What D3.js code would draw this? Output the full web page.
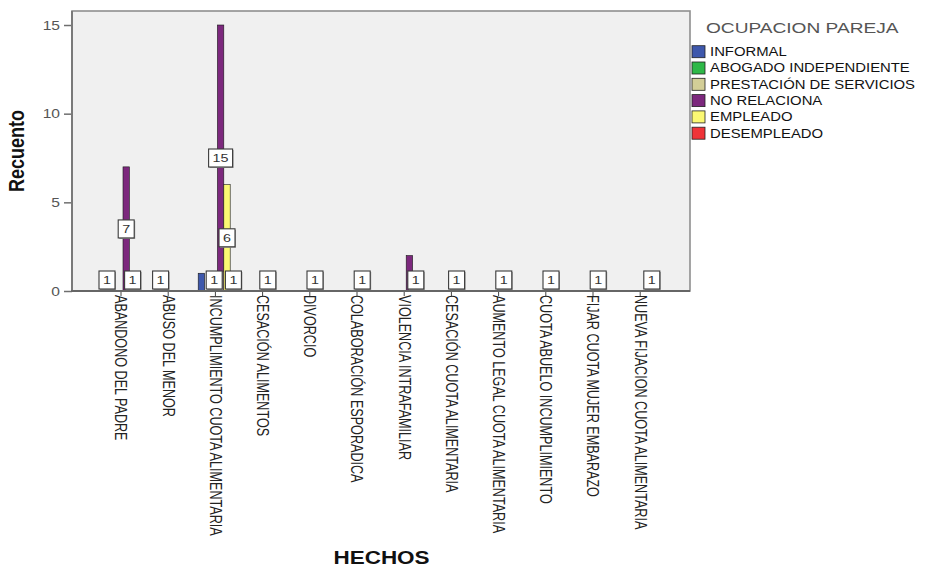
<!DOCTYPE html>
<html>
<head>
<meta charset="utf-8">
<script src="https://cdn.jsdelivr.net/npm/d3@7"></script>
<style>
  body { margin: 0; background: #ffffff; }
  svg { display: block; font-family: "Liberation Sans", Arial, sans-serif; }
</style>
</head>
<body>
<svg id="chart" width="925" height="567"></svg>
<script>
// Categories (HECHOS)
const hechos = [
  "ABANDONO DEL PADRE",
  "ABUSO DEL MENOR",
  "INCUMPLIMIENTO CUOTA ALIMENTARIA",
  "CESACIÓN ALIMENTOS",
  "DIVORCIO",
  "COLABORACIÓN ESPORADICA",
  "VIOLENCIA INTRAFAMILIAR",
  "CESACIÓN CUOTA ALIMENTARIA",
  "AUMENTO LEGAL CUOTA ALIMENTARIA",
  "CUOTA ABUELO INCUMPLIMIENTO",
  "FIJAR CUOTA MUJER EMBARAZO",
  "NUEVA FIJACION CUOTA ALIMENTARIA"
];

// Series (OCUPACION PAREJA)
const ocupaciones = [
  "INFORMAL",
  "ABOGADO INDEPENDIENTE",
  "PRESTACIÓN DE SERVICIOS",
  "NO RELACIONA",
  "EMPLEADO",
  "DESEMPLEADO"
];
const colores = ["#3E58AC", "#2EB848", "#D3CE97", "#7C287D", "#FBF873", "#EF3338"];

// Counts per hecho, one array per ocupación
const informal      = [1, 0, 1, 0, 0, 0, 0, 0, 0, 0, 0, 0];
const abogado       = [0, 1, 0, 0, 0, 0, 0, 0, 0, 0, 0, 0];
const prestacion    = [0, 0, 1, 0, 0, 0, 0, 0, 0, 0, 0, 0];
const noRelaciona   = [7, 0, 15, 1, 1, 1, 2, 1, 1, 1, 1, 0];
const empleado      = [1, 0, 6, 0, 0, 0, 1, 0, 0, 0, 0, 1];
const desempleado   = [0, 0, 1, 0, 0, 0, 0, 0, 0, 0, 0, 0];
const series = [informal, abogado, prestacion, noRelaciona, empleado, desempleado];

const yTicks = [0, 5, 10, 15];

// ---- layout ----
const K = 1.25;                 // horizontal text stretch
const plot = { left: 72, right: 690, top: 11, bottom: 291 };
const svg = d3.select("#chart");

const x0 = d3.scaleBand().domain(hechos).range([99.4, 665.8]);
const x1 = d3.scaleBand().domain(ocupaciones)
  .range([0, x0.bandwidth()]).paddingInner(0).paddingOuter(0.6875);
const y = d3.scaleLinear().domain([0, 15.79]).range([plot.bottom, plot.top]);
const color = d3.scaleOrdinal().domain(ocupaciones).range(colores);

// plot background and frame
svg.append("rect")
  .attr("x", plot.left).attr("y", plot.top)
  .attr("width", plot.right - plot.left).attr("height", plot.bottom - plot.top)
  .attr("fill", "#F0F0F0").attr("stroke", "#8f8f8f").attr("stroke-width", 1.6);

// bars
const rows = [];
hechos.forEach((h, i) => {
  ocupaciones.forEach((o, s) => {
    rows.push({ hecho: h, ocup: o, s, value: series[s][i] });
  });
});
const nonzero = rows.filter(d => d.value > 0);

svg.append("g").selectAll("rect").data(nonzero).join("rect")
  .attr("x", d => x0(d.hecho) + x1(d.ocup))
  .attr("width", x1.bandwidth())
  .attr("y", d => y(d.value))
  .attr("height", d => y(0) - y(d.value))
  .attr("fill", d => color(d.ocup))
  .attr("stroke", "#1a1a1a").attr("stroke-width", 0.6);

// y axis
const yAxis = svg.append("g")
  .attr("transform", `translate(${plot.left},0)`)
  .call(d3.axisLeft(y).tickValues(yTicks).tickSize(8).tickPadding(0).tickFormat(d3.format("d")));
yAxis.select(".domain").remove();
yAxis.selectAll(".tick line").attr("stroke", "#6f6f6f").attr("stroke-width", 1.5);
yAxis.selectAll(".tick text")
  .attr("x", -9.6).attr("dy", "0.34em")
  .attr("transform", `scale(${K},1)`)
  .attr("font-size", 12.5).attr("fill", "#555");

// x axis (ticks and rotated category labels)
const xTickScale = x0.copy().range([97.4, 663.8]);
const xAxis = svg.append("g")
  .attr("transform", `translate(0,${plot.bottom})`)
  .call(d3.axisBottom(xTickScale).tickSize(5));
xAxis.select(".domain").remove();
xAxis.selectAll(".tick line").attr("stroke", "#444").attr("stroke-width", 1);
xAxis.selectAll(".tick text")
  .attr("x", 4).attr("y", 0).attr("dy", "0.36em")
  .attr("text-anchor", "start")
  .attr("transform", `scale(${K},1) rotate(90)`)
  .attr("font-size", 12.6).attr("fill", "#222");

// axis lines
svg.append("line")
  .attr("x1", plot.left).attr("x2", plot.left)
  .attr("y1", plot.top).attr("y2", plot.bottom + 1)
  .attr("stroke", "#7a7a7a").attr("stroke-width", 2);
svg.append("line")
  .attr("x1", plot.left - 1).attr("x2", plot.right)
  .attr("y1", plot.bottom).attr("y2", plot.bottom)
  .attr("stroke", "#666").attr("stroke-width", 2);

// value labels: boxed, centred on the bar, skipping ones that would collide
const labelFont = 11.5, boxH = 18;
const placed = [];
const labels = [];
hechos.forEach((h, i) => {
  for (let s = ocupaciones.length - 1; s >= 0; s--) {
    const v = series[s][i];
    if (!(v > 0)) continue;
    const txt = String(v);
    const w = txt.length * 0.556 * labelFont * K + 8;
    const cx = x0(h) + x1(ocupaciones[s]) + x1.bandwidth() / 2;
    const cy = Math.min(y(v / 2), y(0) - boxH / 2 - 2);
    const box = { x0: cx - w / 2, x1: cx + w / 2, y0: cy - boxH / 2, y1: cy + boxH / 2 };
    const hit = placed.some(b => b.x0 < box.x1 && box.x0 < b.x1 && b.y0 < box.y1 && box.y0 < b.y1);
    if (hit) continue;
    placed.push(box);
    labels.push({ txt, cx, cy, w });
  }
});
const lg = svg.append("g").selectAll("g").data(labels).join("g")
  .attr("transform", d => `translate(${d.cx},${d.cy})`);
lg.append("rect")
  .attr("x", d => -d.w / 2 + 1).attr("y", -boxH / 2 + 1)
  .attr("width", d => d.w).attr("height", boxH)
  .attr("fill", "#9a9a9a");
lg.append("rect")
  .attr("x", d => -d.w / 2).attr("y", -boxH / 2)
  .attr("width", d => d.w).attr("height", boxH)
  .attr("fill", "#ffffff").attr("stroke", "#3a3a3a").attr("stroke-width", 1.1);
lg.append("text")
  .attr("transform", `scale(${K},1)`)
  .attr("text-anchor", "middle").attr("dy", "0.36em")
  .attr("font-size", labelFont).attr("fill", "#333")
  .text(d => d.txt);

// axis titles
svg.append("text")
  .attr("transform", `translate(24,151) scale(${K},1) rotate(-90)`)
  .attr("text-anchor", "middle")
  .attr("font-size", 18).attr("font-weight", "bold").attr("fill", "#111")
  .text("Recuento");
svg.append("text")
  .attr("transform", `translate(381.5,564) scale(${K},1)`)
  .attr("text-anchor", "middle")
  .attr("font-size", 18).attr("font-weight", "bold").attr("fill", "#111")
  .text("HECHOS");

// legend
const legend = svg.append("g");
legend.append("text")
  .attr("transform", `translate(706,33) scale(${K},1)`)
  .attr("font-size", 15.3).attr("fill", "#555")
  .text("OCUPACION PAREJA");
const items = legend.selectAll("g.item").data(ocupaciones).join("g")
  .attr("class", "item")
  .attr("transform", (d, i) => `translate(692,${51.7 + i * 16.3})`);
items.append("rect")
  .attr("x", 0).attr("y", -6).attr("width", 13).attr("height", 12)
  .attr("fill", d => color(d)).attr("stroke", "#222").attr("stroke-width", 0.8);
items.append("text")
  .attr("transform", `translate(18,4.3) scale(${K},1)`)
  .attr("font-size", 11.9).attr("fill", "#111")
  .text(d => d);
</script>
</body>
</html>
